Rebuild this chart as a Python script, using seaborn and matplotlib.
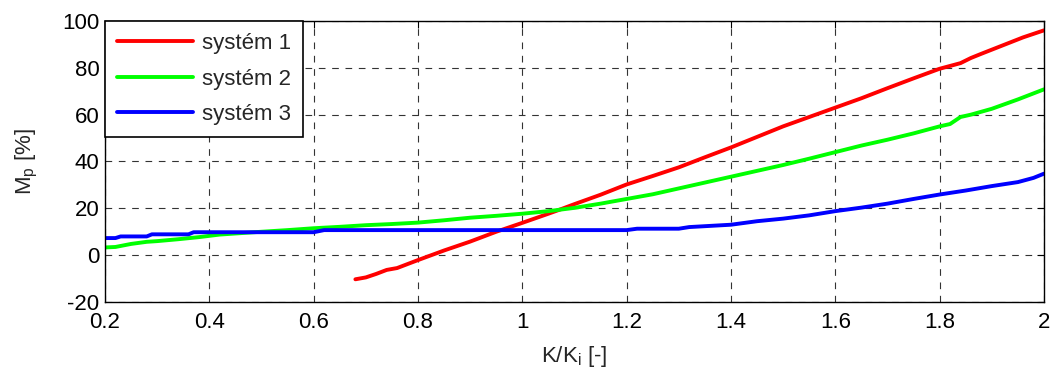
import matplotlib
matplotlib.use("Agg")
import matplotlib.pyplot as plt
import seaborn as sns
import pandas as pd

# --- data ---
red_x = [0.68, 0.70, 0.72, 0.74, 0.76, 0.78, 0.80, 0.85, 0.90, 0.95, 1.00, 1.05, 1.07, 1.10, 1.15, 1.20,
         1.25, 1.30, 1.35, 1.40, 1.45, 1.50, 1.55, 1.60, 1.65, 1.70, 1.75, 1.80, 1.84, 1.86, 1.88, 1.92, 1.96, 2.00]
red_y = [-10.3, -9.5, -8.0, -6.3, -5.5, -3.8, -2.1, 2.0, 5.8, 10.0, 13.8, 17.7, 19.3, 21.8, 25.8, 30.2,
         33.8, 37.5, 41.8, 46.0, 50.5, 55.0, 59.0, 63.0, 67.0, 71.3, 75.5, 79.6, 82.0, 84.2, 86.0, 89.5, 93.0, 96.0]

green_x = [0.20, 0.22, 0.25, 0.28, 0.30, 0.34, 0.38, 0.42, 0.46, 0.50, 0.55, 0.60, 0.65, 0.70, 0.75, 0.80,
           0.85, 0.90, 0.95, 1.00, 1.05, 1.10, 1.15, 1.20, 1.25, 1.30, 1.35, 1.40, 1.45, 1.50, 1.55, 1.60,
           1.65, 1.70, 1.75, 1.80, 1.82, 1.84, 1.86, 1.90, 1.95, 2.00]
green_y = [3.3, 3.5, 4.8, 5.7, 6.0, 6.8, 7.7, 8.8, 9.4, 10.0, 10.7, 11.5, 12.1, 12.8, 13.3, 13.9,
           14.9, 16.0, 16.8, 17.7, 18.8, 20.2, 22.0, 24.0, 26.0, 28.5, 31.0, 33.5, 36.0, 38.5, 41.2, 44.0,
           46.8, 49.3, 52.0, 55.0, 56.0, 59.0, 60.0, 62.5, 66.5, 70.8]

blue_x = [0.20, 0.22, 0.23, 0.28, 0.29, 0.36, 0.37, 0.60, 0.62, 1.20, 1.22, 1.30, 1.32, 1.40, 1.45,
          1.50, 1.55, 1.60, 1.65, 1.70, 1.75, 1.80, 1.85, 1.90, 1.95, 1.98, 2.00]
blue_y = [7.3, 7.3, 8.0, 8.0, 8.9, 8.9, 9.8, 9.8, 10.7, 10.7, 11.3, 11.3, 12.0, 13.0, 14.5,
          15.6, 17.0, 18.8, 20.3, 22.0, 24.0, 25.9, 27.6, 29.5, 31.2, 33.0, 34.8]

labels = ["systém 1", "systém 2", "systém 3"]
colors = ["#FF0000", "#00FF00", "#0000FF"]
x_ticks = [0.2, 0.4, 0.6, 0.8, 1.0, 1.2, 1.4, 1.6, 1.8, 2.0]
x_ticklabels = ["0.2", "0.4", "0.6", "0.8", "1", "1.2", "1.4", "1.6", "1.8", "2"]
y_ticks = [-20, 0, 20, 40, 60, 80, 100]

sns.set_style("white")
plt.rcParams['font.family'] = ['Liberation Sans', 'DejaVu Sans']
plt.rcParams['axes.unicode_minus'] = False

FS = 16

fig = plt.figure(figsize=(10.51, 3.74), dpi=100)
ax = fig.add_axes([0.0999, 0.1925, 0.8934, 0.7514])

for xs, ys, lab, col in zip([red_x, green_x, blue_x], [red_y, green_y, blue_y], labels, colors):
    df = pd.DataFrame({"x": xs, "y": ys})
    sns.lineplot(data=df, x="x", y="y", ax=ax, color=col, lw=2.8, label=lab, sort=False)

ax.set_xlim(0.2, 2.0)
ax.set_ylim(-20, 100)
ax.set_xticks(x_ticks)
ax.set_xticklabels(x_ticklabels)
ax.set_yticks(y_ticks)
ax.tick_params(axis='both', which='both', direction='in', top=True, right=True,
               labelsize=FS, length=5, width=0.8, colors='black')
ax.tick_params(axis='x', pad=7)
ax.tick_params(axis='y', pad=4)
ax.grid(True, linestyle=(0, (6, 6)), color='#333333', linewidth=0.8)
for s in ax.spines.values():
    s.set_color('black')
    s.set_linewidth(1.0)

ax.set_xlabel("K/K$_\\mathregular{i}$ [-]", fontsize=FS, labelpad=8)
ax.set_ylabel("M$_\\mathregular{p}$ [%]", fontsize=FS, labelpad=16)

leg = ax.legend(loc='upper left', borderaxespad=0, fontsize=FS, frameon=True, fancybox=False,
                handlelength=3.4, handletextpad=0.4, borderpad=0.55, labelspacing=0.65)
leg.get_frame().set_edgecolor('black')
leg.get_frame().set_linewidth(1.2)
leg.get_frame().set_alpha(1.0)

fig.savefig("out.png", dpi=100)
